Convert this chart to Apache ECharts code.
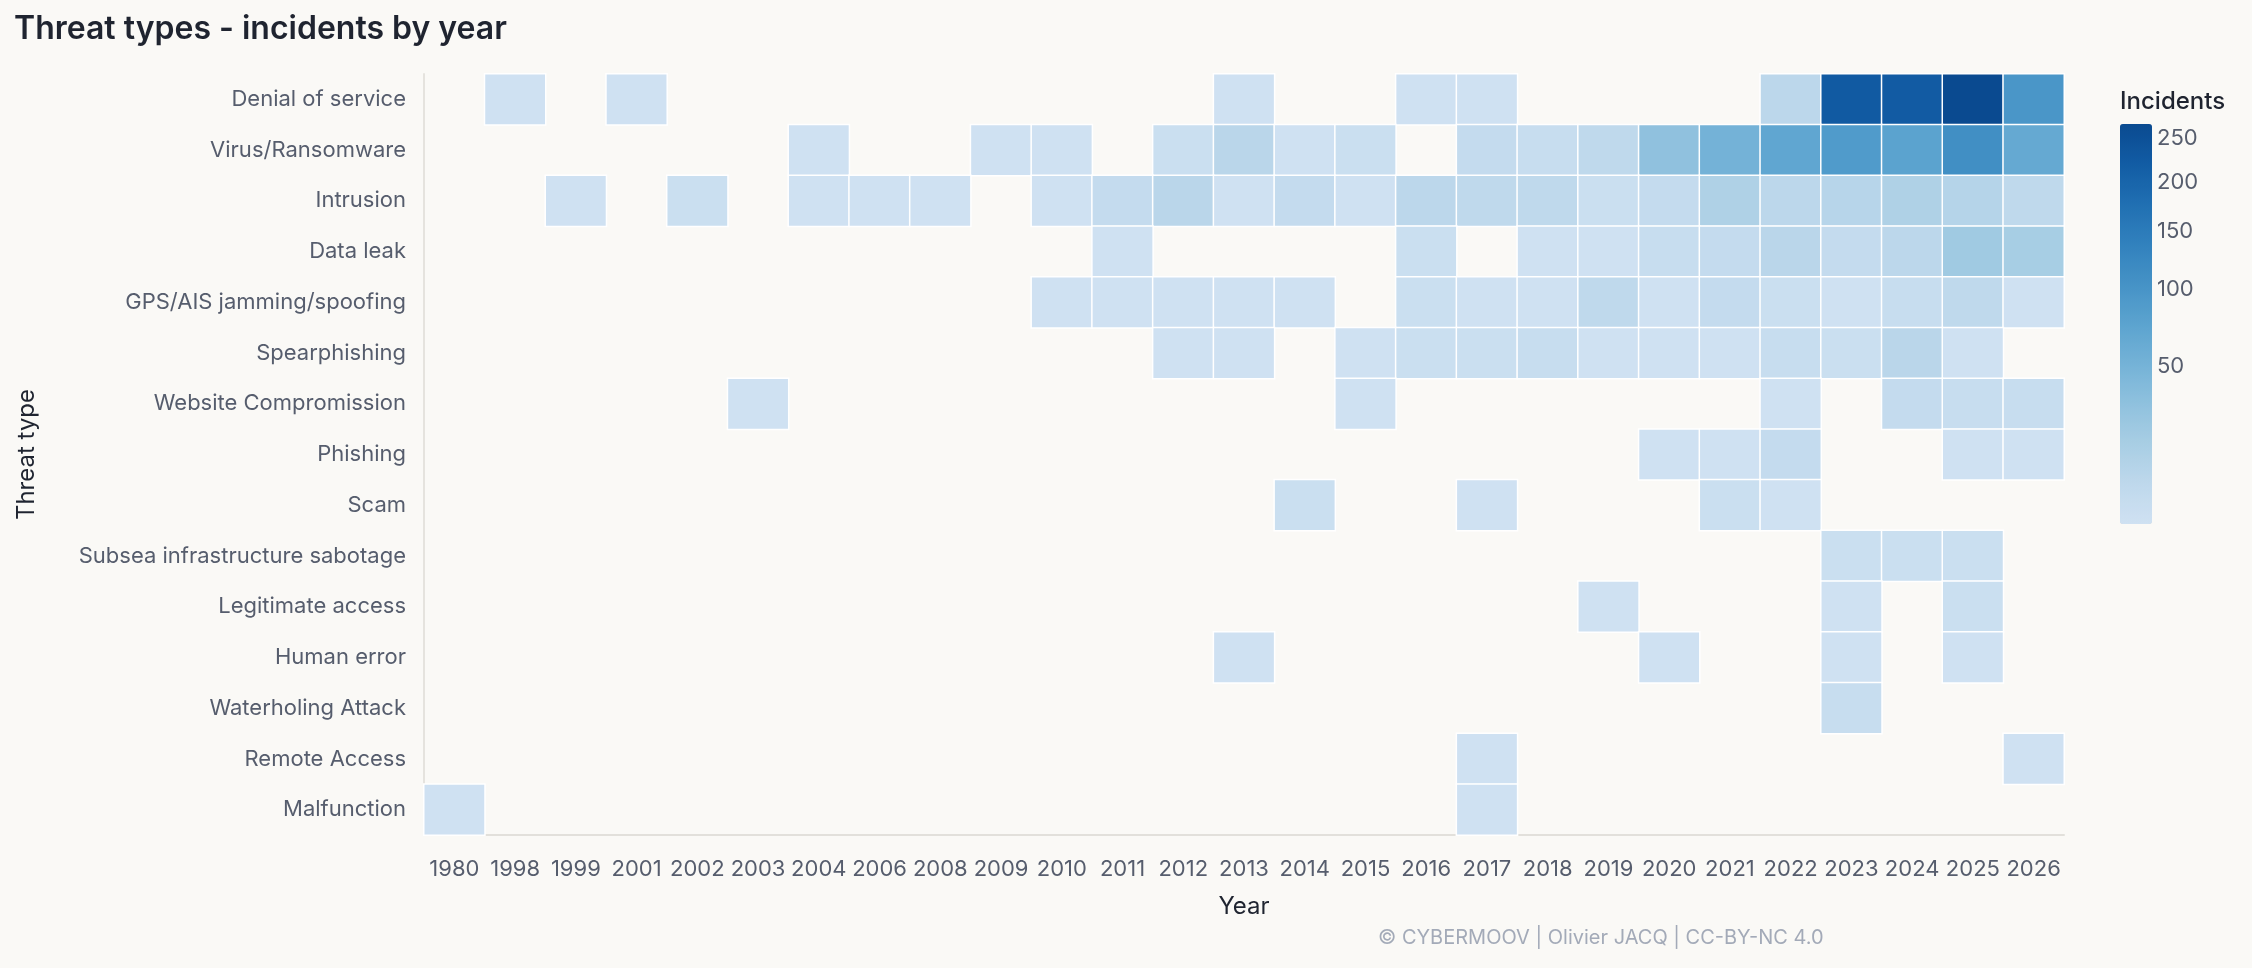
<!DOCTYPE html>
<html>
<head>
<meta charset="utf-8">
<title>Threat types - incidents by year</title>
<script src="https://cdn.jsdelivr.net/npm/echarts@6/dist/echarts.min.js"></script>
<style>
  html, body {
    margin: 0;
    padding: 0;
    background: #faf9f6;
  }
  #main {
    width: 2252px;
    height: 968px;
  }
</style>
</head>
<body>
<div id="main"></div>
<script>
// x categories
const years = ['1980', '1998', '1999', '2001', '2002', '2003', '2004', '2006', '2008', '2009',
  '2010', '2011', '2012', '2013', '2014', '2015', '2016', '2017', '2018', '2019',
  '2020', '2021', '2022', '2023', '2024', '2025', '2026']

// y categories, top to bottom
const threatTypes = ['Denial of service', 'Virus/Ransomware', 'Intrusion', 'Data leak',
  'GPS/AIS jamming/spoofing', 'Spearphishing', 'Website Compromission', 'Phishing', 'Scam',
  'Subsea infrastructure sabotage', 'Legitimate access', 'Human error', 'Waterholing Attack',
  'Remote Access', 'Malfunction']

// incidents per year (same order as years), 0 = no cell
const denialOfService = [0, 1, 0, 1, 0, 0, 0, 0, 0, 0, 0, 0, 0, 1, 0, 0, 1, 1, 0, 0, 0, 0, 7, 225, 222, 268, 98]
const virusRansomware = [0, 0, 0, 0, 0, 0, 1, 0, 0, 1, 1, 0, 2, 8, 1, 2, 0, 4, 3, 6, 31, 51, 70, 89, 75, 111, 65]
const intrusion = [0, 0, 1, 0, 2, 0, 1, 1, 1, 0, 1, 4, 8, 1, 4, 1, 7, 6, 6, 2, 4, 13, 7, 9, 13, 10, 6]
const dataLeak = [0, 0, 0, 0, 0, 0, 0, 0, 0, 0, 0, 1, 0, 0, 0, 0, 2, 0, 1, 1, 3, 4, 8, 4, 7, 21, 17]
const gpsJamming = [0, 0, 0, 0, 0, 0, 0, 0, 0, 0, 1, 1, 1, 1, 1, 0, 2, 1, 1, 6, 1, 4, 2, 1, 3, 6, 1]
const spearphishing = [0, 0, 0, 0, 0, 0, 0, 0, 0, 0, 0, 0, 1, 1, 0, 1, 2, 2, 3, 1, 1, 1, 3, 2, 8, 1, 0]
const websiteCompromission = [0, 0, 0, 0, 0, 1, 0, 0, 0, 0, 0, 0, 0, 0, 0, 1, 0, 0, 0, 0, 0, 0, 1, 0, 4, 3, 3]
const phishing = [0, 0, 0, 0, 0, 0, 0, 0, 0, 0, 0, 0, 0, 0, 0, 0, 0, 0, 0, 0, 1, 1, 4, 0, 0, 1, 1]
const scam = [0, 0, 0, 0, 0, 0, 0, 0, 0, 0, 0, 0, 0, 0, 2, 0, 0, 1, 0, 0, 0, 2, 1, 0, 0, 0, 0]
const subseaSabotage = [0, 0, 0, 0, 0, 0, 0, 0, 0, 0, 0, 0, 0, 0, 0, 0, 0, 0, 0, 0, 0, 0, 0, 2, 2, 2, 0]
const legitimateAccess = [0, 0, 0, 0, 0, 0, 0, 0, 0, 0, 0, 0, 0, 0, 0, 0, 0, 0, 0, 1, 0, 0, 0, 1, 0, 2, 0]
const humanError = [0, 0, 0, 0, 0, 0, 0, 0, 0, 0, 0, 0, 0, 1, 0, 0, 0, 0, 0, 0, 1, 0, 0, 1, 0, 1, 0]
const waterholing = [0, 0, 0, 0, 0, 0, 0, 0, 0, 0, 0, 0, 0, 0, 0, 0, 0, 0, 0, 0, 0, 0, 0, 3, 0, 0, 0]
const remoteAccess = [0, 0, 0, 0, 0, 0, 0, 0, 0, 0, 0, 0, 0, 0, 0, 0, 0, 1, 0, 0, 0, 0, 0, 0, 0, 0, 1]
const malfunction = [1, 0, 0, 0, 0, 0, 0, 0, 0, 0, 0, 0, 0, 0, 0, 0, 0, 1, 0, 0, 0, 0, 0, 0, 0, 0, 0]

// colour legend tick labels
const legendTicks = [50, 100, 150, 200, 250]

const rows = [denialOfService, virusRansomware, intrusion, dataLeak, gpsJamming, spearphishing,
  websiteCompromission, phishing, scam, subseaSabotage, legitimateAccess, humanError,
  waterholing, remoteAccess, malfunction]

const minCount = 1
const maxCount = Math.max(...rows.map(r => Math.max(...r)))

// colour is on a square-root scale, so the value used by visualMap is sqrt(count)
const cells = []
rows.forEach((row, y) => {
  row.forEach((count, x) => {
    if (count > 0) cells.push([x, y, Math.sqrt(count), count])
  })
})

const blues = ['#cfe1f2', '#bed8ec', '#a8cee4', '#8fc1de', '#74b2d7', '#5ba3cf',
  '#4592c6', '#3181bd', '#206fb2', '#125ca4', '#0a4a90']

const labelColor = '#565d6d'
const darkText = '#1f2430'
const font = 'Inter, "Noto Sans", sans-serif'

const chart = echarts.init(document.getElementById('main'))
chart.setOption({
  backgroundColor: '#faf9f6',
  textStyle: { fontFamily: font },
  title: [
    {
      text: 'Threat types - incidents by year',
      left: 9,
      top: 8,
      textStyle: { fontSize: 32, fontWeight: 600, color: darkText, fontFamily: font }
    },
    {
      text: 'Incidents',
      left: 2115,
      top: 85,
      textStyle: { fontSize: 24, fontWeight: 500, color: darkText, fontFamily: font }
    }
  ],
  grid: [
    { left: 424, right: 188, top: 74, bottom: 133 },
    { left: 2120, top: 124, width: 32, height: 400 }
  ],
  xAxis: [
    {
      type: 'category',
      data: years,
      gridIndex: 0,
      name: 'Year',
      nameLocation: 'middle',
      nameGap: 60,
      nameTextStyle: { fontSize: 24, color: darkText, fontFamily: font },
      axisLine: { lineStyle: { color: '#e2e0db', width: 2 } },
      axisTick: { alignWithLabel: true, length: 7, lineStyle: { color: '#e2e0db', width: 2 } },
      axisLabel: { fontSize: 22, color: labelColor, margin: 23, interval: 0, fontFamily: font },
      splitLine: { show: false },
      splitArea: { show: false }
    },
    {
      type: 'value',
      gridIndex: 1,
      show: false
    }
  ],
  yAxis: [
    {
      type: 'category',
      data: threatTypes,
      gridIndex: 0,
      inverse: true,
      name: 'Threat type',
      nameLocation: 'middle',
      nameGap: 385,
      nameTextStyle: { fontSize: 24, color: darkText, fontFamily: font },
      axisLine: { lineStyle: { color: '#e5e3de', width: 2 } },
      axisTick: { alignWithLabel: true, length: 8, lineStyle: { color: '#e5e3de', width: 2 } },
      axisLabel: { fontSize: 22, color: labelColor, margin: 18, interval: 0, fontFamily: font },
      splitLine: { show: false },
      splitArea: { show: false }
    },
    {
      type: 'value',
      gridIndex: 1,
      position: 'right',
      min: Math.sqrt(minCount),
      max: Math.sqrt(maxCount),
      axisLine: { show: false },
      axisTick: { show: false },
      splitLine: { show: false },
      axisLabel: {
        show: true,
        margin: 5,
        fontSize: 22,
        color: labelColor,
        fontFamily: font,
        customValues: legendTicks.map(v => Math.sqrt(v)),
        formatter: v => String(Math.round(v * v))
      }
    }
  ],
  visualMap: {
    type: 'continuous',
    seriesIndex: 0,
    dimension: 2,
    min: Math.sqrt(minCount),
    max: Math.sqrt(maxCount),
    calculable: false,
    hoverLink: false,
    orient: 'vertical',
    left: 2120,
    top: 124,
    padding: 0,
    itemWidth: 32,
    itemHeight: 400,
    inRange: { color: blues }
  },
  graphic: [
    {
      type: 'text',
      left: 1378,
      top: 928,
      style: {
        text: '© CYBERMOOV | Olivier JACQ | CC-BY-NC 4.0',
        fontSize: 20,
        fill: '#a3aab8',
        fontFamily: font
      }
    }
  ],
  series: [
    {
      type: 'heatmap',
      xAxisIndex: 0,
      yAxisIndex: 0,
      data: cells,
      itemStyle: { borderColor: '#ffffff', borderWidth: 1.5 },
      emphasis: { disabled: true }
    }
  ]
})
</script>
</body>
</html>
